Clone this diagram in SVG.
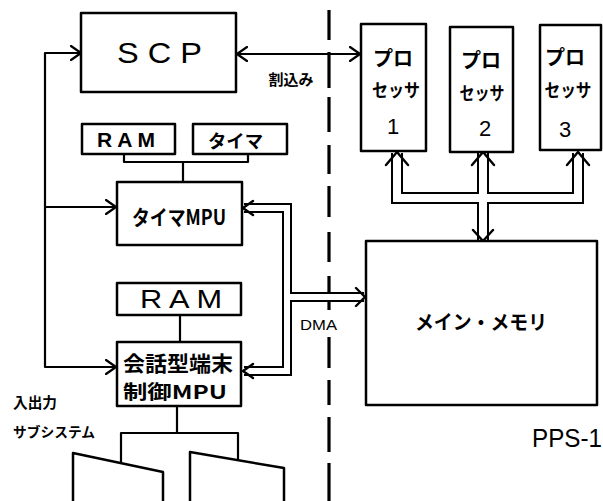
<svg xmlns="http://www.w3.org/2000/svg" width="603" height="501" viewBox="0 0 603 501">
<style>
.box{fill:#fff;stroke:#000;stroke-width:2.5;stroke-linejoin:round}
.ln{fill:none;stroke:#000;stroke-width:2.2;stroke-linejoin:round}
.ah{fill:none;stroke:#000;stroke-width:2.4;stroke-linecap:round;stroke-linejoin:round}
.busB{fill:none;stroke:#000;stroke-linejoin:miter}
.busW{fill:none;stroke:#fff;stroke-linejoin:miter}
.dash{stroke:#000;stroke-width:3.2;stroke-linecap:butt}
.lat{font-family:"Liberation Sans",Arial,sans-serif;fill:#000}
.jp{font-family:"Noto Sans CJK JP","Noto Sans",sans-serif;fill:#000;font-weight:bold}
</style>
<defs>
<marker id="arr" viewBox="0 0 12 16" refX="11" refY="8" markerWidth="12" markerHeight="16" markerUnits="userSpaceOnUse" orient="auto-start-reverse">
<path d="M1,1 L11,8 L1,15" fill="none" stroke="#000" stroke-width="2.2" stroke-linecap="round" stroke-linejoin="round"/>
</marker>
</defs>
<rect width="603" height="501" fill="#fff"/>

<g id="divider">
<path class="dash" d="M329,10V40M329,52V88M329,97V132M329,145V174M329,186V217M329,232V262M329,276V310M329,337V368M329,380V405M329,417V452M329,463V501"/>
</g>

<g id="connectors">
<path class="ln" d="M81,53H45V367H116" marker-start="url(#arr)" marker-end="url(#arr)"/>
<path class="ln" d="M45,207H116" marker-end="url(#arr)"/>
<path class="ln" d="M237,54H360" marker-start="url(#arr)" marker-end="url(#arr)"/>
<path class="ln" d="M124,154V162H248V154M183,162V182"/>
<path class="ln" d="M180,315V342"/>
<path class="ln" d="M177,406V433M121,463V433H238V460"/>
<path class="busB" stroke-width="12" d="M397,153V198H578V153M483,153V240"/>
<path class="busW" stroke-width="8" d="M397,153V198H578V153M483,153V240"/>
<path class="ah" d="M386,165L397,152L408,165M472,165L483,152L494,165M567,165L578,152L589,165M473,230L483,241L493,230"/>
<path class="busB" stroke-width="10" d="M244,208H287V371H244M287,297H364"/>
<path class="busW" stroke-width="6" d="M244,208H287V371H244M287,297H364"/>
<path class="ah" d="M253,201L243,208L253,215M253,364L243,371L253,378M356,288L365,297L356,306"/>
</g>

<g id="scp">
<rect class="box" x="81" y="13" width="155" height="79"/>
<text class="lat" x="117" y="63" font-size="29" textLength="85" lengthAdjust="spacingAndGlyphs">S C P</text>
</g>
<g id="ram1">
<rect class="box" x="82" y="124" width="93" height="30"/>
<text class="lat" x="97" y="147" font-size="20" font-weight="bold" textLength="58" lengthAdjust="spacingAndGlyphs">R A M</text>
</g>
<g id="timer">
<rect class="box" x="193" y="124" width="94" height="30"/>
<text class="jp" x="208" y="148" font-size="18" textLength="55" lengthAdjust="spacingAndGlyphs">タイマ</text>
</g>
<g id="timer-mpu">
<rect class="box" x="117" y="182" width="125" height="63"/>
<text class="jp" x="132" y="225" font-size="21" textLength="94" lengthAdjust="spacingAndGlyphs">タイマMPU</text>
</g>
<g id="ram2">
<rect class="box" x="117" y="283" width="124" height="32"/>
<text class="lat" x="140" y="308" font-size="25" textLength="82" lengthAdjust="spacingAndGlyphs">R A M</text>
</g>
<g id="terminal-mpu">
<rect class="box" x="117" y="342" width="124" height="64"/>
<text class="jp" x="123" y="371" font-size="21" textLength="110" lengthAdjust="spacingAndGlyphs">会話型端末</text>
<text class="jp" x="123" y="399" font-size="19" textLength="104" lengthAdjust="spacingAndGlyphs">制御MPU</text>
</g>
<g id="processor1">
<rect class="box" x="361" y="24" width="65" height="127"/>
<text class="jp" x="393" y="66" font-size="20" text-anchor="middle">プロ</text>
<text class="jp" x="396" y="97" font-size="18" text-anchor="middle" textLength="48" lengthAdjust="spacingAndGlyphs">セッサ</text>
<text class="lat" x="393" y="134" font-size="22" text-anchor="middle">1</text>
</g>
<g id="processor2">
<rect class="box" x="450" y="27" width="63" height="125"/>
<text class="jp" x="481" y="68" font-size="20" text-anchor="middle">プロ</text>
<text class="jp" x="482" y="100" font-size="18" text-anchor="middle" textLength="45" lengthAdjust="spacingAndGlyphs">セッサ</text>
<text class="lat" x="485" y="136" font-size="22" text-anchor="middle">2</text>
</g>
<g id="processor3">
<rect class="box" x="540" y="25" width="61" height="125"/>
<text class="jp" x="565" y="65" font-size="20" text-anchor="middle">プロ</text>
<text class="jp" x="568" y="97" font-size="18" text-anchor="middle" textLength="47" lengthAdjust="spacingAndGlyphs">セッサ</text>
<text class="lat" x="565" y="137" font-size="22" text-anchor="middle">3</text>
</g>
<g id="main-memory">
<rect class="box" x="366" y="241" width="231" height="164"/>
<text class="jp" x="415" y="330" font-size="20" textLength="132" lengthAdjust="spacingAndGlyphs">メイン・メモリ</text>
</g>
<g id="terminal1">
<path class="box" d="M73,503V453L163,472V503"/>
</g>
<g id="terminal2">
<path class="box" d="M190,503V452L284,468V503"/>
</g>
<g id="labels">
<text class="jp" x="291" y="85" font-size="15" text-anchor="middle">割込み</text>
<text class="lat" x="300" y="330" font-size="15" textLength="37" lengthAdjust="spacingAndGlyphs">DMA</text>
<text class="jp" x="13" y="408" font-size="15" textLength="44" lengthAdjust="spacingAndGlyphs">入出力</text>
<text class="jp" x="13" y="437" font-size="14" textLength="82" lengthAdjust="spacingAndGlyphs">サブシステム</text>
<text class="lat" x="532" y="447" font-size="25" textLength="70" lengthAdjust="spacingAndGlyphs">PPS-1</text>
</g>
</svg>
